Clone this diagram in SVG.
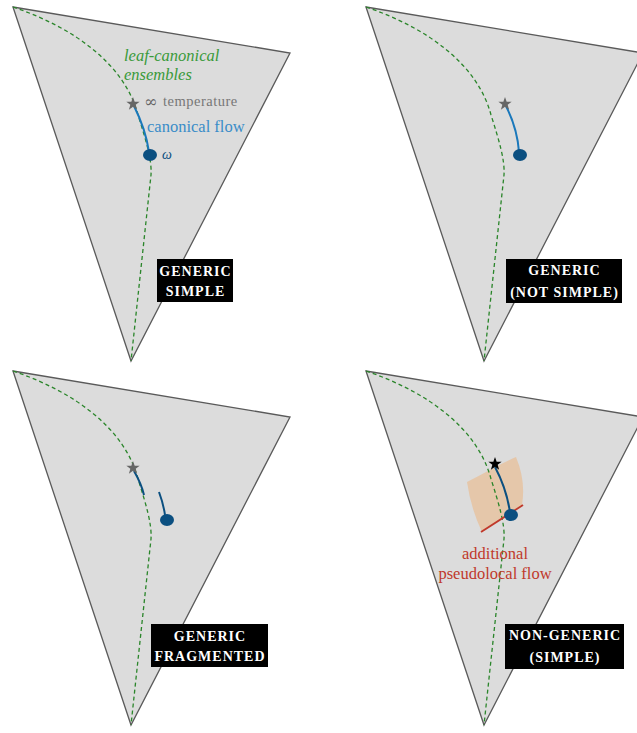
<svg xmlns="http://www.w3.org/2000/svg" xmlns:xlink="http://www.w3.org/1999/xlink" width="637" height="733" viewBox="0 0 637 733">
<style>
.tri{fill:#dcdcdc;stroke:#5a5a5a;stroke-width:1.3;stroke-linejoin:miter}
.dash{fill:none;stroke:#2a852a;stroke-width:1.3;stroke-dasharray:4,3}
.flow{fill:none;stroke:#1a78bb;stroke-width:2}
.flowd{fill:none;stroke:#0b4f80;stroke-width:2}
.omega{fill:#0b4f80}
.box{fill:#000}
.lab{font-weight:bold;font-size:14px;letter-spacing:1px;fill:#fff;text-anchor:middle}
</style>
<defs>
<path id="star" d="M0,-7 L1.65,-2.27 6.66,-2.16 2.66,0.87 4.11,5.66 0,2.8 -4.11,5.66 -2.66,0.87 -6.66,-2.16 -1.65,-2.27 Z"/>
<path id="tri" d="M13,7 L290,53 L131,361 Z"/>
<path id="curve" d="M13,7 C75,28 125,65 138,115 C146,140 152,160 151,175 L131,361"/>
</defs>

<g id="panel1">
<use xlink:href="#tri" class="tri"/>
<use xlink:href="#curve" class="dash"/>
<path class="flow" d="M134,106 C142,122 147,138 149,152"/>
<use xlink:href="#star" x="133" y="104" fill="#666"/>
<ellipse class="omega" cx="150" cy="155" rx="7" ry="6"/>
<text font-family="Liberation Serif, serif" x="124" y="61" font-size="16.5" font-style="italic" fill="#3a9a3a">leaf-canonical</text>
<text font-family="Liberation Serif, serif" x="124" y="80" font-size="16.5" font-style="italic" fill="#3a9a3a">ensembles</text>
<text font-family="DejaVu Serif, serif" x="144" y="107" font-size="16" fill="#666">∞</text>
<text font-family="Liberation Serif, serif" x="163" y="106" font-size="14.5" fill="#777" letter-spacing="0.5">temperature</text>
<text font-family="Liberation Serif, serif" x="147" y="132" font-size="16.5" fill="#3a8cc8">canonical flow</text>
<text font-family="Liberation Serif, serif" x="162" y="159" font-size="14" font-style="italic" fill="#0b4f80">ω</text>
<rect class="box" x="157" y="259" width="76" height="43"/>
<text class="lab" font-family="Liberation Serif, serif" x="195.5" y="276">GENERIC</text>
<text class="lab" font-family="Liberation Serif, serif" x="195.5" y="296">SIMPLE</text>
</g>

<g id="panel2" transform="translate(353,0)">
<use xlink:href="#tri" class="tri"/>
<use xlink:href="#curve" class="dash"/>
<path class="flow" d="M153,106 C161,122 165,138 166,152"/>
<use xlink:href="#star" x="152" y="104" fill="#666"/>
<ellipse class="omega" cx="167" cy="155" rx="7" ry="6"/>
<rect class="box" x="153" y="259" width="116" height="44"/>
<text class="lab" font-family="Liberation Serif, serif" x="211.5" y="275">GENERIC</text>
<text class="lab" font-family="Liberation Serif, serif" x="211.5" y="297" font-size="15">(NOT SIMPLE)</text>
</g>

<g id="panel3" transform="translate(0,364)">
<use xlink:href="#tri" class="tri"/>
<use xlink:href="#curve" class="dash"/>
<path class="flowd" d="M134,107 C138,114 142,122 144,131"/>
<path class="flowd" d="M159,128 C162,136 164,144 165,151"/>
<use xlink:href="#star" x="133" y="104" fill="#666"/>
<ellipse class="omega" cx="167" cy="156" rx="7" ry="6"/>
<rect class="box" x="151" y="260" width="117" height="43"/>
<text class="lab" font-family="Liberation Serif, serif" x="210" y="277">GENERIC</text>
<text class="lab" font-family="Liberation Serif, serif" x="210" y="297" letter-spacing="0.6">FRAGMENTED</text>
</g>

<g id="panel4" transform="translate(353,364)">
<use xlink:href="#tri" class="tri"/>
<path d="M114,118 C130,110 147,100 163,93 Q173,117 169,141 L129,168 Q118,145 114,118 Z" fill="#e6c4a4" opacity="0.9"/>
<use xlink:href="#curve" class="dash"/>
<path d="M128,168 L170,141" stroke="#c0392b" stroke-width="1.8" fill="none"/>
<path class="flowd" d="M142,103 C150,118 155,135 157,148"/>
<use xlink:href="#star" x="142" y="100" fill="#000"/>
<ellipse class="omega" cx="158" cy="151" rx="7" ry="6"/>
<text font-family="Liberation Serif, serif" x="142" y="195" font-size="16.5" fill="#c0392b" text-anchor="middle">additional</text>
<text font-family="Liberation Serif, serif" x="142" y="215" font-size="16.5" fill="#c0392b" text-anchor="middle">pseudolocal flow</text>
<rect class="box" x="152" y="260" width="119" height="45"/>
<text class="lab" font-family="Liberation Serif, serif" x="212" y="276" letter-spacing="0.6">NON-GENERIC</text>
<text class="lab" font-family="Liberation Serif, serif" x="212" y="298" font-size="15">(SIMPLE)</text>
</g>
</svg>
